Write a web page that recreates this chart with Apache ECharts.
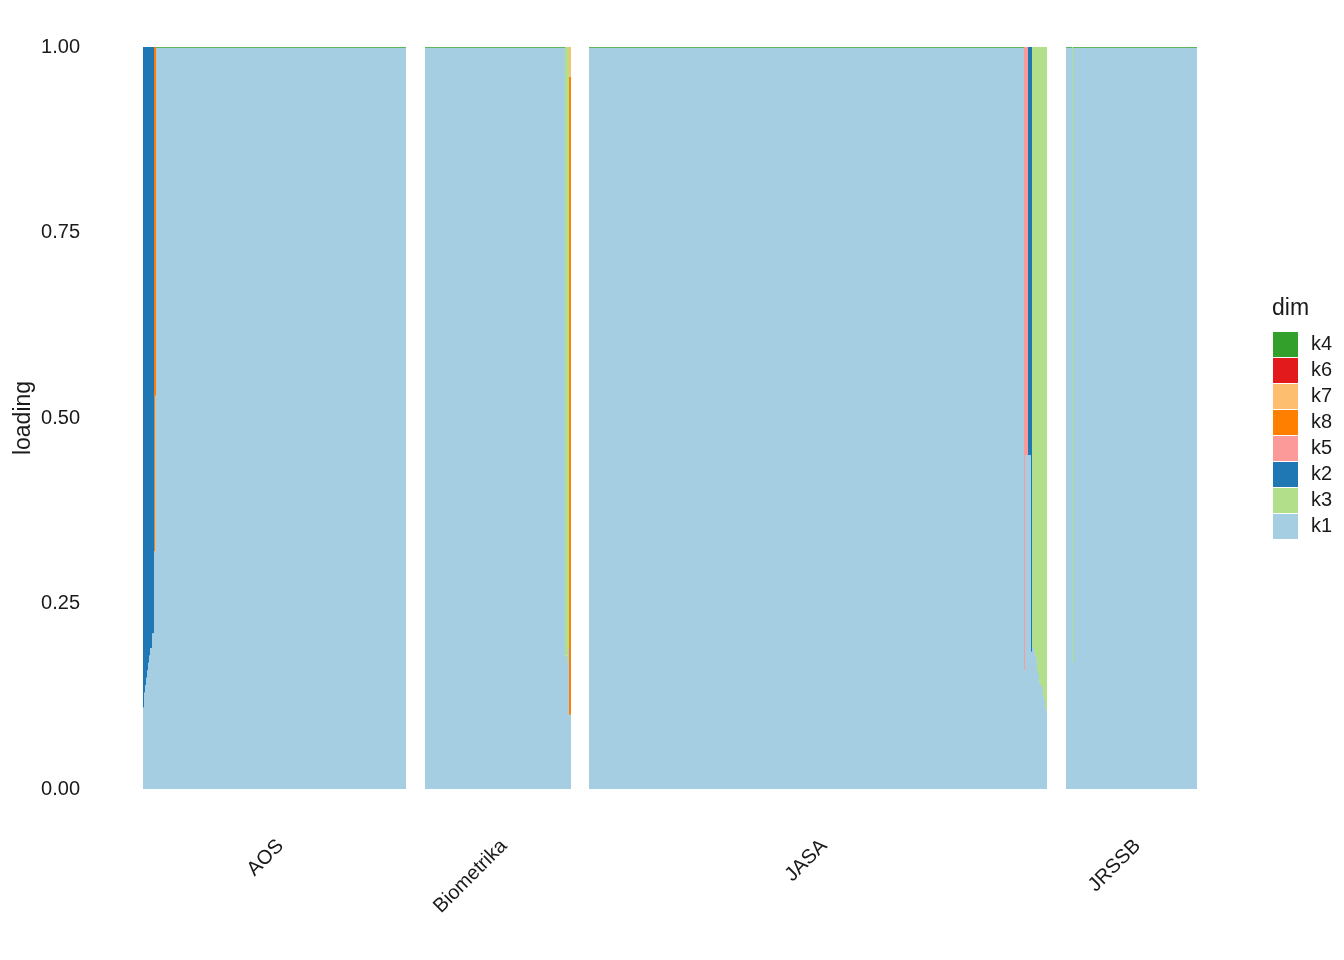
<!DOCTYPE html>
<html>
<head>
<meta charset="utf-8">
<script src="https://cdn.jsdelivr.net/npm/echarts@6/dist/echarts.min.js"></script>
<style>html,body{margin:0;padding:0;background:#fff;}#c{width:1344px;height:960px;}</style>
</head>
<body>
<div id="c"></div>
<script>
// ---------- data ----------
const journals = ['AOS', 'Biometrika', 'JASA', 'JRSSB'];
const topics = ['k1', 'k2', 'k3', 'k4', 'k5', 'k6', 'k7', 'k8'];
const stackOrder = ['k1', 'k3', 'k2', 'k5', 'k8', 'k7', 'k6', 'k4']; // bottom -> top
const legendOrder = ['k4', 'k6', 'k7', 'k8', 'k5', 'k2', 'k3', 'k1'];
const topicColors = ['#A6CEE3', '#1F78B4', '#B2DF8A', '#33A02C', '#FB9A99', '#E31A1C', '#FDBF6F', '#FF7F00'];
const yTicks = [0, 0.25, 0.5, 0.75, 1];

// runs of documents: [nDocs, k1, k2, k3, k4, k5, k6, k7, k8]
const aosRuns = [
  [1, 0.11, 0.89, 0, 0, 0, 0, 0, 0],
  [1, 0.13, 0.87, 0, 0, 0, 0, 0, 0],
  [1, 0.14, 0.86, 0, 0, 0, 0, 0, 0],
  [1, 0.15, 0.85, 0, 0, 0, 0, 0, 0],
  [1, 0.16, 0.84, 0, 0, 0, 0, 0, 0],
  [1, 0.17, 0.83, 0, 0, 0, 0, 0, 0],
  [1, 0.18, 0.82, 0, 0, 0, 0, 0, 0],
  [1, 0.19, 0.81, 0, 0, 0, 0, 0, 0],
  [1, 0.19, 0.81, 0, 0, 0, 0, 0, 0],
  [1, 0.21, 0.79, 0, 0, 0, 0, 0, 0],
  [1, 0.21, 0.79, 0, 0, 0, 0, 0, 0],
  [1, 0.32, 0, 0, 0, 0, 0, 0, 0.68],
  [1, 0.53, 0, 0, 0, 0, 0, 0, 0.47],
  [250, 0.999, 0, 0, 0.001, 0, 0, 0, 0]
];
const biometrikaRuns = [
  [140, 0.999, 0, 0, 0.001, 0, 0, 0, 0],
  [1, 0.18, 0, 0.82, 0, 0, 0, 0, 0],
  [1, 0.17, 0, 0.83, 0, 0, 0, 0, 0],
  [1, 0.18, 0, 0.82, 0, 0, 0, 0, 0],
  [1, 0.19, 0, 0.81, 0, 0, 0, 0, 0],
  [2, 0.10, 0, 0, 0, 0, 0, 0.04, 0.86]
];
const jasaRuns = [
  [435, 0.999, 0, 0, 0.001, 0, 0, 0, 0],
  [1, 0.16, 0, 0, 0, 0.84, 0, 0, 0],
  [1, 0.45, 0, 0, 0, 0.55, 0, 0, 0],
  [1, 0.45, 0, 0, 0, 0.55, 0, 0, 0],
  [1, 0.45, 0, 0, 0, 0.55, 0, 0, 0],
  [1, 0.45, 0.55, 0, 0, 0, 0, 0, 0],
  [1, 0.45, 0.55, 0, 0, 0, 0, 0, 0],
  [1, 0.45, 0.55, 0, 0, 0, 0, 0, 0],
  [1, 0.185, 0.815, 0, 0, 0, 0, 0, 0],
  [1, 0.19, 0, 0.81, 0, 0, 0, 0, 0],
  [1, 0.19, 0, 0.81, 0, 0, 0, 0, 0],
  [1, 0.185, 0, 0.815, 0, 0, 0, 0, 0],
  [1, 0.18, 0, 0.82, 0, 0, 0, 0, 0],
  [1, 0.175, 0, 0.825, 0, 0, 0, 0, 0],
  [1, 0.16, 0, 0.84, 0, 0, 0, 0, 0],
  [1, 0.155, 0, 0.845, 0, 0, 0, 0, 0],
  [1, 0.145, 0, 0.855, 0, 0, 0, 0, 0],
  [1, 0.14, 0, 0.86, 0, 0, 0, 0, 0],
  [1, 0.14, 0, 0.86, 0, 0, 0, 0, 0],
  [1, 0.135, 0, 0.865, 0, 0, 0, 0, 0],
  [1, 0.125, 0, 0.875, 0, 0, 0, 0, 0],
  [1, 0.12, 0, 0.88, 0, 0, 0, 0, 0],
  [1, 0.11, 0, 0.89, 0, 0, 0, 0, 0],
  [1, 0.105, 0, 0.895, 0, 0, 0, 0, 0]
];
const jrssbRuns = [
  [6, 0.999, 0, 0, 0.001, 0, 0, 0, 0],
  [1, 0.17, 0, 0.83, 0, 0, 0, 0, 0],
  [124, 0.999, 0, 0, 0.001, 0, 0, 0, 0]
];
const runsByJournal = [aosRuns, biometrikaRuns, jasaRuns, jrssbRuns];

// ---------- layout ----------
const panels = [
  { left: 143, width: 263 },
  { left: 425, width: 146 },
  { left: 589, width: 458 },
  { left: 1066, width: 131 }
];
const plotTop = 47, plotHeight = 742;
const FONT = '"Liberation Sans", Arial, Helvetica, sans-serif';
const TXT = '#1a1a1a';
const labelShift = 6;

function renderItem(params, api) {
  const a = api.coord([api.value(0), api.value(3)]);
  const b = api.coord([api.value(1), api.value(2)]);
  return {
    type: 'rect',
    shape: { x: a[0], y: a[1], width: b[0] - a[0], height: b[1] - a[1] },
    style: { fill: api.visual('color') }
  };
}

const grids = [], xAxes = [], yAxes = [], series = [];
journals.forEach((j, g) => {
  const runs = runsByJournal[g];
  const nDocs = runs.reduce((s, r) => s + r[0], 0);
  grids.push({ left: panels[g].left, width: panels[g].width, top: plotTop, height: plotHeight, containLabel: false });
  xAxes.push({
    type: 'value', gridIndex: g, min: 0, max: nDocs,
    axisLine: { show: false }, axisTick: { show: false }, splitLine: { show: false },
    axisLabel: {
      show: true, customValues: [nDocs / 2 + labelShift], rotate: 45, margin: 54,
      formatter: () => j, fontSize: 20, color: TXT, fontFamily: FONT
    }
  });
  yAxes.push({
    type: 'value', gridIndex: g, min: 0, max: 1, interval: 0.25, show: g === 0,
    axisLine: { show: false }, axisTick: { show: false }, splitLine: { show: false },
    axisLabel: { show: g === 0, margin: 63, fontSize: 20, color: TXT, fontFamily: FONT, formatter: v => v.toFixed(2) },
    name: g === 0 ? 'loading' : '', nameLocation: 'middle', nameGap: 108,
    nameTextStyle: { fontSize: 23, color: TXT, fontFamily: FONT }
  });
  const rects = {};
  stackOrder.forEach(t => rects[t] = []);
  let x = 0;
  runs.forEach(r => {
    const n = r[0];
    let base = 0;
    stackOrder.forEach(t => {
      const v = r[1 + topics.indexOf(t)];
      if (v > 0) rects[t].push([x, x + n, base, base + v]);
      base += v;
    });
    x += n;
  });
  stackOrder.forEach(t => {
    series.push({
      type: 'custom', name: t, xAxisIndex: g, yAxisIndex: g,
      renderItem: renderItem, data: rects[t],
      encode: { x: [0, 1], y: [2, 3] },
      itemStyle: { color: topicColors[topics.indexOf(t)] },
      silent: true
    });
  });
});

const chart = echarts.init(document.getElementById('c'), null, { renderer: 'canvas' });
chart.setOption({
  animation: false,
  backgroundColor: '#ffffff',
  title: {
    text: 'dim', left: 1272, top: 297, padding: 0,
    textStyle: { fontSize: 23, fontWeight: 'normal', color: TXT, fontFamily: FONT }
  },
  legend: {
    data: legendOrder, orient: 'vertical', left: 1273, top: 332, padding: 0,
    itemWidth: 25, itemHeight: 25, itemGap: 1, icon: 'rect',
    selectedMode: false,
    formatter: '{a|{name}}',
    textStyle: { fontSize: 20, color: TXT, fontFamily: FONT, rich: { a: { fontSize: 20, color: TXT, fontFamily: FONT, padding: [0, 0, 0, 8] } } }
  },
  grid: grids,
  xAxis: xAxes,
  yAxis: yAxes,
  series: series
});
</script>
</body>
</html>
